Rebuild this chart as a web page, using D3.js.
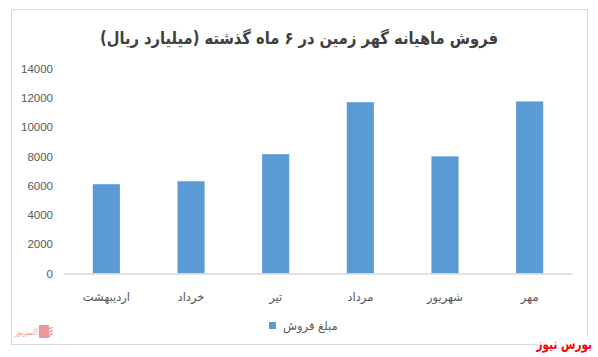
<!DOCTYPE html>
<html>
<head>
<meta charset="utf-8">
<script src="https://cdn.jsdelivr.net/npm/d3@7"></script>
<style>
  html, body { margin: 0; padding: 0; background: #fff; }
  svg { display: block; font-family: "DejaVu Sans", sans-serif; }
</style>
</head>
<body>
<div id="chart"></div>
<script>
// data
const months = ['اردیبهشت', 'خرداد', 'تیر', 'مرداد', 'شهریور', 'مهر'];
const sales = [6100, 6300, 8150, 11700, 8000, 11750];
const yTicks = [0, 2000, 4000, 6000, 8000, 10000, 12000, 14000];
const titleText = 'فروش ماهیانه گهر زمین در ۶ ماه گذشته (میلیارد ریال)';
const legendText = 'مبلغ فروش';

const W = 598, H = 357;
const BAR = '#5b9bd5';
const TXT = '#595959';

const svg = d3.select('#chart').append('svg')
  .attr('width', W).attr('height', H);

// frame
svg.append('rect')
  .attr('x', 11.5).attr('y', 9.5)
  .attr('width', 576).attr('height', 335)
  .attr('fill', '#fff').attr('stroke', '#d9d9d9');

const x = d3.scaleBand().domain(months).range([64, 572]).paddingInner(0.68).paddingOuter(0.34);
const y = d3.scaleLinear().domain([0, 14000]).range([273.5, 68.5]);

// title, squeezed to the measured width so the glyphs keep their height
svg.append('text')
  .attr('x', 299).attr('y', 44)
  .attr('text-anchor', 'middle')
  .attr('font-size', 17).attr('font-weight', 'bold')
  .attr('fill', '#404040')
  .attr('textLength', 398).attr('lengthAdjust', 'spacingAndGlyphs')
  .text(titleText);

// y axis labels
const yAxis = svg.append('g')
  .attr('transform', 'translate(53,0)')
  .call(d3.axisLeft(y).tickValues(yTicks).tickSize(0).tickPadding(0).tickFormat(d3.format('d')));
yAxis.select('.domain').remove();
yAxis.selectAll('text')
  .attr('font-size', 11.5).attr('fill', TXT)
  .attr('font-family', '"Liberation Sans", sans-serif');

// bars
svg.append('g').selectAll('rect')
  .data(sales)
  .join('rect')
  .attr('x', (d, i) => x(months[i]))
  .attr('y', d => y(d))
  .attr('width', x.bandwidth())
  .attr('height', d => y(0) - y(d))
  .attr('fill', BAR);

// x axis
const xAxis = svg.append('g')
  .attr('transform', `translate(0,${y(0)})`)
  .call(d3.axisBottom(x).tickSize(0).tickPadding(19));
xAxis.select('.domain').attr('stroke', '#d9d9d9').attr('stroke-width', 1.3);
xAxis.selectAll('text')
  .attr('font-size', 11.5).attr('fill', TXT)
  .attr('font-family', '"DejaVu Sans", sans-serif');

// legend
const lg = svg.append('g').attr('transform', 'translate(269,326)');
lg.append('rect').attr('x', 0).attr('y', -4).attr('width', 7).attr('height', 7).attr('fill', BAR);
lg.append('text')
  .attr('x', 14).attr('y', 4)
  .attr('font-size', 11.5).attr('fill', TXT)
  .text(legendText);

// bottom-left watermark
const wm = svg.append('g').attr('transform', 'translate(15,330)').attr('opacity', 0.55);
wm.append('rect').attr('x', 24).attr('y', -5).attr('width', 10).attr('height', 13).attr('fill', '#e0414b');
[4, 7, 10].forEach(r => {
  wm.append('path')
    .attr('d', d3.arc()({innerRadius: r - 1.3, outerRadius: r, startAngle: -Math.PI / 2, endAngle: 0}))
    .attr('transform', 'translate(38,7)')
    .attr('fill', '#e0414b');
});
wm.append('text').attr('x', 0).attr('y', 5)
  .attr('font-size', 9).attr('fill', '#e0414b').attr('font-style', 'italic')
  .attr('textLength', 22).attr('lengthAdjust', 'spacingAndGlyphs')
  .text('اکسیرنیوز');

// bottom-right watermark, on its own white patch over the frame corner
svg.append('rect')
  .attr('x', 538).attr('y', 337)
  .attr('width', 60).attr('height', 20)
  .attr('fill', '#fff');
svg.append('text')
  .attr('transform', 'translate(592,349) scale(0.75,1)')
  .attr('text-anchor', 'end')
  .attr('font-size', 14).attr('font-weight', 'bold')
  .attr('fill', '#ff0000')
  .text('بورس نیوز');
</script>
</body>
</html>
